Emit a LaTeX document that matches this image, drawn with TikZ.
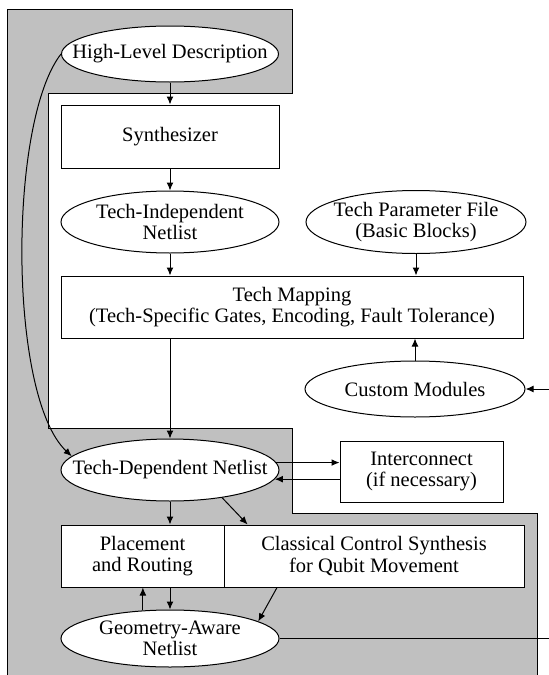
\documentclass[tikz,border=0pt]{standalone}
\usepackage{fontspec}
\setmainfont{Liberation Serif}
\usetikzlibrary{arrows.meta}
\usetikzlibrary{calc,shapes}
\definecolor{fond}{RGB}{192,192,192}

\begin{document}
\begin{tikzpicture}[x=0.5pt,y=-0.5pt,>={Latex[length=4pt,width=3.4pt]},line width=0.5pt,
		boite/.style={draw,fill=white,rectangle,inner sep=0pt,align=center,font=\fontsize{10.25}{10.8}\selectfont},
		bulle/.style={draw,fill=white,ellipse,inner sep=-25pt,align=center,font=\fontsize{10.25}{10.8}\selectfont}]
				\useasboundingbox (0,0) rectangle (549,675);
				% Fond
				\fill[fond] (7,9) -- (292,9) -- (292,93) -- (48,93) -- (48,428) -- (292,428) -- (292,513) -- (537,513) -- (537,675) -- (7,675) -- cycle;
				\draw (7,675) -- (7,9) -- (292,9) -- (292,93) -- (48,93) -- (48,428) -- (292,428) -- (292,513) -- (537,513) -- (537,675);
				% Noeuds
				\node[bulle,minimum width=108.5pt,minimum height=28pt] (hld) at (170,54) {High-Level Description};
				\node[boite,minimum width=109pt,minimum height=31.5pt] (synth) at (170,136.5) {Synthesizer};
				\node[bulle,minimum width=109pt,minimum height=31pt] (tin) at (170,222) {Tech-Independent\\Netlist};
				\node[bulle,minimum width=110pt,minimum height=31.5pt] (tpf) at (416,222) {Tech Parameter File\\(Basic Blocks)};
				\node[boite,minimum width=231pt,minimum height=31pt] (tmap) at (292,307) {Tech Mapping\\(Tech-Specific Gates, Encoding, Fault Tolerance)};
				\node[bulle,minimum width=110pt,minimum height=28pt] (cm) at (415,389) {Custom Modules};
				\node[bulle,minimum width=109pt,minimum height=31pt] (tdn) at (170,470) {Tech-Dependent Netlist};
				\node[boite,minimum width=81.5pt,minimum height=30.5pt] (ic) at (421.5,471.5) {Interconnect\\(if necessary)};
				\node[boite,minimum width=81.5pt,minimum height=31pt] (pr) at (142.5,556) {Placement\\and Routing};
				\node[boite,minimum width=150pt,minimum height=31pt] (ccs) at (374,556) {Classical Control Synthesis\\for Qubit Movement};
				\node[bulle,minimum width=109pt,minimum height=28.5pt] (gan) at (170,638.5) {Geometry-Aware\\Netlist};
				\coordinate (cmin) at (549,389);
				\coordinate (ganout) at (549,638.5);
				% Flèches
				\draw[->] (hld) -- (synth);
				\draw[->] (synth) -- (tin);
				\draw[->] (tin) -- (tin |- tmap.north);
				\draw[->] (tpf) -- (tpf |- tmap.north);
				\draw[->] (cm) -- (cm |- tmap.south);
				\draw[->] (cmin) -- (cm);
				\draw[->] (tdn |- tmap.south) -- (tdn);
				\draw[->] (hld.west) .. controls (8,122) and (8,396) .. (tdn.172);
				\draw[->] (tdn.4) -- (tdn.4 -| ic.west);
				\draw[->] (ic.west |- tdn.-5) -- (tdn.-5);
				\draw[->] (tdn) -- (tdn |- pr.north);
				\draw[->] (tdn.-28) -- (ccs.166);
				\draw[->] (tdn |- pr.south) -- (gan);
				\draw[->] (gan.134) -- (gan.134 |- pr.south);
				\draw[->] (ccs.198) -- (gan.11);
				\draw (gan) -- (ganout);
\end{tikzpicture}
\end{document}
